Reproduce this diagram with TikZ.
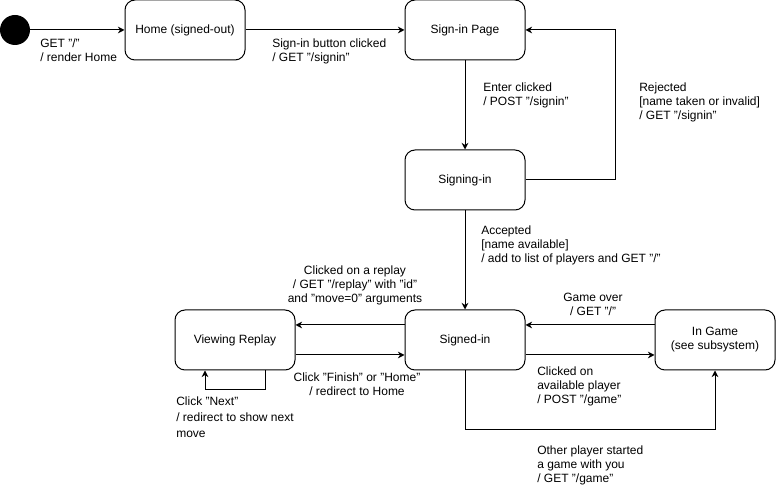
\documentclass[tikz,border=0pt]{standalone}
\usepackage{fontspec}
\setmainfont{Liberation Sans}
\usetikzlibrary{arrows.meta,positioning}

\begin{document}
\begin{tikzpicture}[
  x=0.75pt, y=-0.75pt,
  >={Stealth[length=5pt,width=5pt]},
  every node/.style={font=\fontsize{9pt}{10.5pt}\selectfont},
  state/.style={draw, line width=0.75pt, rounded corners=7.5pt, align=center,
                minimum width=90pt, minimum height=45pt, inner sep=2pt},
  initial/.style={circle, fill=black, minimum size=22.5pt, inner sep=0pt},
  lbl/.style={inner sep=0pt, align=left},
  clbl/.style={inner sep=0pt, align=center},
  e/.style={->, line width=0.75pt}
]
\useasboundingbox (0,0) rectangle (776,491);

% states, placed at their pixel centres
\node[initial] (start)    at (15,30)   {};
\node[state]   (home)     at (185,30)  {Home (signed-out)};
\node[state]   (signpage) at (465,30)  {Sign-in Page};
\node[state]   (signing)  at (465,180) {Signing-in};
\node[state]   (signedin) at (465,340) {Signed-in};
\node[state]   (replay)   at (235,340) {Viewing Replay};
\node[state]   (ingame)   at (715,340) {In Game\\(see subsystem)};

\coordinate (rejx)  at (615,180);
\coordinate (loopr) at (265,390);
\coordinate (loopl) at (205,390);
\coordinate (othc)  at (715,430);

\draw[e] (start) -- (home);
\draw[e] (home) -- (signpage);
\draw[e] (signpage) -- (signing);
\draw[e] (signing.east) -- (rejx) |- (signpage.east);
\draw[e] (signing) -- (signedin);

\draw[e] ([yshift=11.25pt]signedin.west) -- ([yshift=11.25pt]replay.east);
\draw[e] ([yshift=-11.25pt]replay.east) -- ([yshift=-11.25pt]signedin.west);
\draw[e] (replay.south -| loopr) -- (loopr) -- (loopl) -- (replay.south -| loopl);

\draw[e] ([yshift=11.25pt]ingame.west) -- ([yshift=11.25pt]signedin.east);
\draw[e] ([yshift=-11.25pt]signedin.east) -- ([yshift=-11.25pt]ingame.west);
\draw[e] (signedin.south) |- (othc) -- (ingame.south -| othc);

% transition labels
\node[lbl, anchor=north west] (lget)    at (40,39)   {GET "/"\\/ render Home};
\node[lbl, anchor=north west] (lsignin) at (272,39)  {Sign-in button clicked\\/ GET "/signin"};
\node[lbl, anchor=north west] (lenter)  at (483,83)  {Enter clicked\\/ POST "/signin"};
\node[lbl, anchor=north west] (lreject) at (639,83)  {Rejected\\{[name taken or invalid]}\\/ GET "/signin"};
\node[lbl, anchor=north west] (laccept) at (481,226) {Accepted\\{[name available]}\\/ add to list of players and GET "/"};
\node[clbl, anchor=north] (lreplay) at (355,266) {Clicked on a replay\\/ GET "/replay" with "id"\\and "move=0" arguments};
\node[clbl, anchor=north] (lfinish) at (357,373) {Click "Finish" or "Home"\\/ redirect to Home};
\node[lbl, anchor=north west, font=\fontsize{9pt}{12pt}\selectfont] (lnext) at (176,397) {Click "Next"\\/ redirect to show next\\move};
\node[clbl, anchor=north] (lover) at (593,293) {Game over\\/ GET "/"};
\node[lbl, anchor=north west] (lclick) at (537,367) {Clicked on\\available player\\/ POST "/game"};
\node[lbl, anchor=north west] (lother) at (537,446) {Other player started\\a game with you\\/ GET "/game"};

\end{tikzpicture}
\end{document}
